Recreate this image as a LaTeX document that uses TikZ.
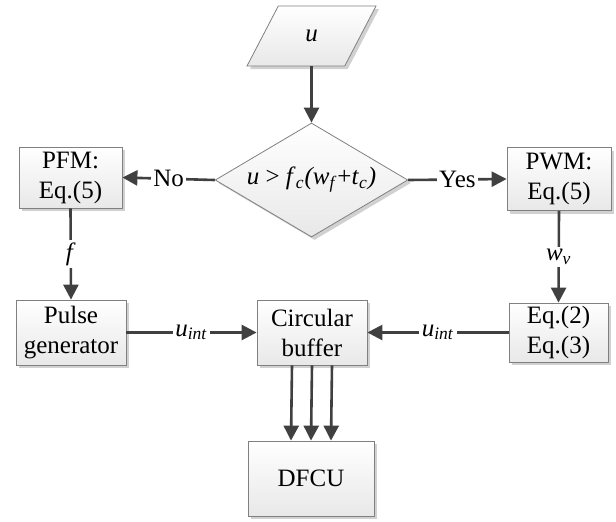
\documentclass[tikz,border=0pt]{standalone}
\usepackage{fontspec}
\setmainfont{Liberation Serif}
\usetikzlibrary{arrows.meta,shapes.geometric,shadows}
\begin{document}
\begin{tikzpicture}[x=0.5pt,y=-0.5pt,
  box/.style={draw=black!50, line width=0.4pt, top color=white, bottom color=black!9,
    drop shadow={shadow xshift=1.5pt,shadow yshift=-1.5pt,fill=black!18,opacity=1},
    inner sep=0pt, align=center, font=\fontsize{12.5}{15}\selectfont},
  arr/.style={draw=black!75, line width=1.3pt, -{Triangle[length=7.5pt,width=7.5pt]}},
  lbl/.style={fill=white, inner sep=1.2pt, font=\fontsize{12.5}{15}\selectfont}]
\useasboundingbox (0,0) rectangle (616,521);
\node[box, trapezium, trapezium left angle=63.43, trapezium right angle=116.57,
  trapezium stretches=true, minimum width=64.5pt, minimum height=30pt] (in) at (311.5,36) {\textit{u}};
\node[box, diamond, minimum width=93.5pt, minimum height=57pt, shape aspect=2.5] (dec) at (311.5,180)
  {\textit{u} > \textit{f}\textsubscript{\textit{c}}\textit{(w}\textsubscript{\textit{f}}+\textit{t}\textsubscript{\textit{c}}\textit{)}};
\node[box, minimum width=51.5pt, minimum height=30.5pt] (pfm) at (70.5,177.5) {PFM:\\Eq.(5)};
\node[box, minimum width=52pt, minimum height=31.5pt] (pwm) at (559,179) {PWM:\\Eq.(5)};
\node[box, minimum width=55pt, minimum height=32.5pt] (pulse) at (71,332.5) {Pulse\\generator};
\node[box, minimum width=55pt, minimum height=32.5pt] (buf) at (312,332.5) {Circular\\buffer};
\node[box, minimum width=49.5pt, minimum height=29.5pt] (eq) at (558.5,332.5) {Eq.(2)\\Eq.(3)};
\node[box, minimum width=63pt, minimum height=37.5pt] (dfcu) at (311,478.5) {DFCU};
\draw[arr] (in.center |- in.south) -- (dec.north);
\draw[arr] (dec.west) -- node[lbl]{No} (pfm.east);
\draw[arr] (dec.east) -- node[lbl]{Yes} (pwm.west);
\draw[arr] (pfm.south) -- node[lbl]{\textit{f}} (pulse.north);
\draw[arr] (pwm.south) -- node[lbl]{\textit{w}\textsubscript{\textit{v}}} (eq.north);
\draw[arr] (pulse.east) -- node[lbl]{\textit{u}\textsubscript{\textit{int}}} (buf.west);
\draw[arr] (eq.west) -- node[lbl]{\textit{u}\textsubscript{\textit{int}}} (buf.east);
\draw[arr] ([xshift=-10pt]buf.south) -- ([xshift=-10pt]dfcu.north);
\draw[arr] (buf.south) -- (dfcu.north);
\draw[arr] ([xshift=10pt]buf.south) -- ([xshift=10pt]dfcu.north);
\end{tikzpicture}
\end{document}
